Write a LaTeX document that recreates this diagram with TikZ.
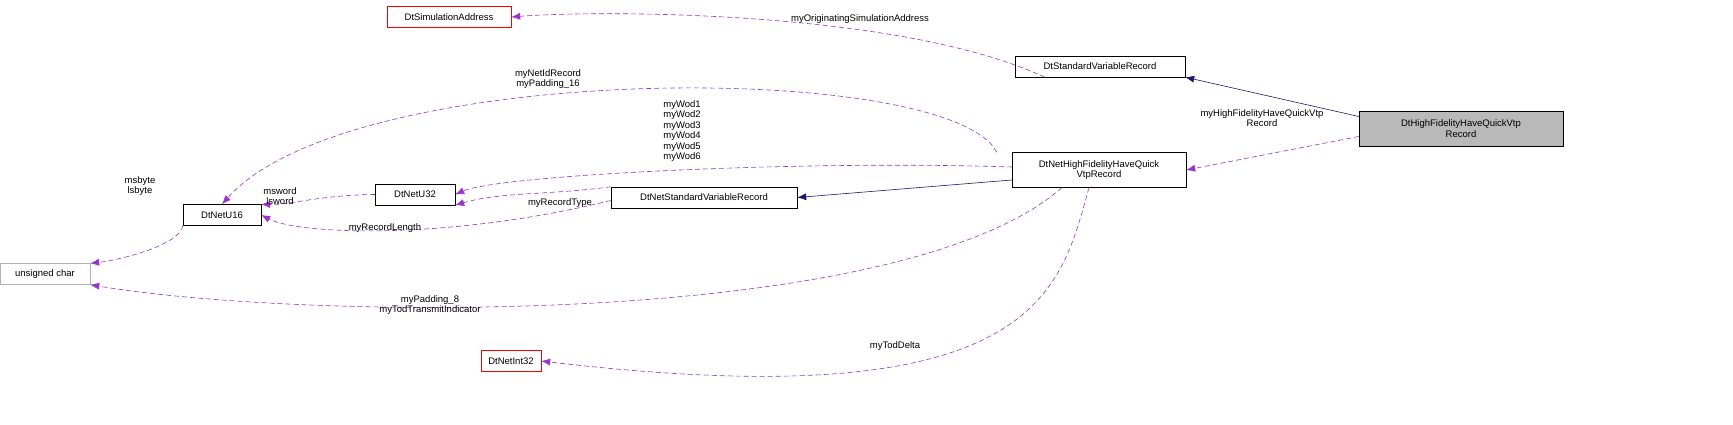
\documentclass[tikz,border=0pt]{standalone}
\usepackage{fontspec}
\setmainfont{Liberation Sans}
\usetikzlibrary{arrows.meta}
\definecolor{edgenavy}{RGB}{25,25,112}
\definecolor{edgepurple}{RGB}{154,50,205}
\begin{document}
\begin{tikzpicture}[x=1pt,y=-1pt,
    every node/.style={font=\fontsize{9.5}{10.5}\selectfont},
    cls/.style={draw=black,fill=white,inner sep=2pt,minimum height=21,align=center},
    ext/.style={cls,draw=red},
    prim/.style={cls,draw=gray!60},
    inherit/.style={draw=edgenavy,semithick,-{Latex[length=9,width=7]}},
    usage/.style={draw=edgepurple,semithick,dash pattern=on 5pt off 3pt,-{Latex[length=9,width=7]}},
    lbl/.style={align=center,inner sep=1pt}]
    \useasboundingbox (0,0) rectangle (1733,425);

    \node[cls,fill=gray!55,minimum width=204,minimum height=35] (HF) at (1461,128.5) {DtHighFidelityHaveQuickVtp\\Record};
    \node[cls,minimum width=170] (SVR) at (1100,66.5) {DtStandardVariableRecord};
    \node[ext,minimum width=124] (SA) at (449,17) {DtSimulationAddress};
    \node[cls,minimum width=174,minimum height=35] (NHF) at (1099,170) {DtNetHighFidelityHaveQuick\\VtpRecord};
    \node[cls,minimum width=186] (NSVR) at (704,197.5) {DtNetStandardVariableRecord};
    \node[cls,minimum width=80] (U32) at (415,194.5) {DtNetU32};
    \node[cls,minimum width=78] (U16) at (222,215) {DtNetU16};
    \node[prim,minimum width=90] (UC) at (45,274) {unsigned char};
    \node[ext,minimum width=60] (I32) at (511,361) {DtNetInt32};

    % inheritance
    \draw[inherit] (HF.west) ++(0,-12) -- (SVR.south east);
    \draw[inherit] (NHF.west) ++(0,10) -- (NSVR.east);

    % members
    \draw[usage] (SVR.south west) ++(30,0) .. controls (900,10) and (600,10) .. (SA.east);
    \node[lbl] at (860,19) {myOriginatingSimulationAddress};
    \draw[usage] (HF.west) ++(0,8) -- (NHF.east);
    \node[lbl] at (1262,118) {myHighFidelityHaveQuickVtp\\Record};
    \draw[usage] (NHF.north west) ++(-15,0) .. controls (950,60) and (350,60) .. (U16.north);
    \node[lbl] at (548,79) {myNetIdRecord\\myPadding\_16};
    \draw[usage] (NHF.west) ++(0,-3) .. controls (800,160) and (500,175) .. (U32.east);
    \node[lbl] at (682,131) {myWod1\\myWod2\\myWod3\\myWod4\\myWod5\\myWod6};
    \draw[usage] (NSVR.north west) .. controls (550,195) and (500,192) .. (U32.south east);
    \node[lbl] at (560,203) {myRecordType};
    \draw[usage] (NSVR.west) ++(0,3) .. controls (450,240) and (300,235) .. (U16.east);
    \node[lbl] at (385,228) {myRecordLength};
    \draw[usage] (U32.west) .. controls (320,195) and (290,205) .. (U16.north east);
    \node[lbl] at (280,196) {msword\\lsword};
    \draw[usage] (U16.south west) .. controls (180,245) and (120,260) .. (UC.north east);
    \node[lbl] at (140,186) {msbyte\\lsbyte};
    \draw[usage] (NHF.south west) ++(50,0) .. controls (900,330) and (300,320) .. (UC.south east);
    \node[lbl] at (430,305) {myPadding\_8\\myTodTransmitIndicator};
    \draw[usage] (NHF.south) ++(-10,0) .. controls (1060,290) and (1040,420) .. (I32.east);
    \node[lbl] at (895,346) {myTodDelta};
\end{tikzpicture}
\end{document}
